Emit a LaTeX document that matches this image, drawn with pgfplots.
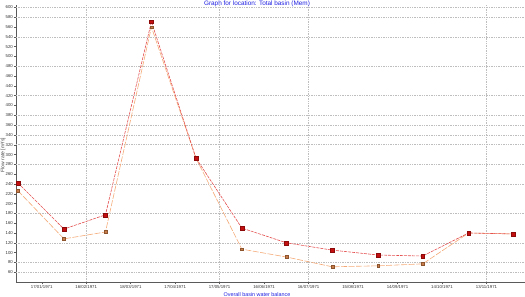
\documentclass[border=0pt]{standalone}
\usepackage{pgfplots}
\pgfplotsset{compat=1.18}
\usepackage{fontspec}
\setmainfont{Liberation Sans}
\definecolor{redline}{RGB}{228,80,80}
\definecolor{redfill}{RGB}{195,15,15}
\definecolor{reddraw}{RGB}{140,10,10}
\definecolor{orline}{RGB}{244,170,120}
\definecolor{orfill}{RGB}{200,125,75}
\definecolor{ordraw}{RGB}{140,85,45}
\definecolor{tblue}{RGB}{30,30,225}
\definecolor{gridc}{RGB}{190,190,190}
\definecolor{axc}{RGB}{90,90,90}
\begin{document}
\begin{tikzpicture}
\begin{axis}[
  at={(0,0)}, anchor=south west,
  scale only axis, width=509pt, height=277pt,
  xmin=-1.35, xmax=342, ymin=40, ymax=605,
  axis x line*=bottom, axis y line*=left,
  axis line style={-, draw=axc, line width=0.5pt},
  tick align=outside, major tick length=2pt,
  tick style={draw=axc, line width=0.4pt},
  xtick={16,46,76,106,136,166,196,226,256,286,316},
  xticklabels={17/01/1971,16/02/1971,18/03/1971,17/04/1971,17/05/1971,16/06/1971,16/07/1971,15/08/1971,14/09/1971,14/10/1971,13/11/1971},
  ytick={60,80,...,600},
  /pgf/number format/assume math mode=true,
  tick label style={font=\fontsize{4.3}{5}\selectfont, text=black!80},
  xticklabel style={inner sep=1pt, yshift=-0.5pt},
  yticklabel style={inner sep=1pt},
  extra y ticks={600,580,540,480,420,380,360,340,320,280,240,180,120,80,60},
  extra y tick labels={},
  extra y tick style={grid=major, major tick length=0pt},
  extra x ticks={46,136,196,316},
  extra x tick labels={},
  extra x tick style={grid=major, major tick length=0pt},
  major grid style={draw=gridc, dash pattern=on 1.4pt off 1pt, line width=0.45pt},
  clip=false,
]
\addplot[draw=orline, line width=0.6pt, dash pattern=on 6pt off 1.5pt,
  mark=square*, mark size=1.4pt, mark options={solid, fill=orfill, draw=ordraw, line width=0.3pt}]
  coordinates {(0,226) (31,128) (59,142) (90,560) (120,293) (151,107) (181,91) (212,71) (243,73) (273,77) (304,140) (334,138)};
\addplot[draw=redline, line width=0.6pt, dash pattern=on 3pt off 1pt,
  mark=square*, mark size=1.9pt, mark options={solid, fill=redfill, draw=reddraw, line width=0.3pt}]
  coordinates {(0,242) (31,148) (59,177) (90,571) (120,293) (151,150) (181,120) (212,105) (243,95) (273,93) (304,140) (334,138)};
\end{axis}
\node[anchor=base, text=tblue, font=\fontsize{6.4}{7}\selectfont] at (241pt,276.6pt) {Graph for location: Total basin (Mem)};
\node[anchor=base, text=tblue, font=\fontsize{5.4}{6}\selectfont] at (241pt,-14.2pt) {Overall basin water balance};
\node[rotate=90, anchor=center, text=black!75, font=\fontsize{5}{6}\selectfont] at (-13pt,127pt) {Flow rate [m³/s]};
\pgfresetboundingbox
\path[use as bounding box] (-16pt,-15pt) rectangle (509pt,282pt);
\end{tikzpicture}
\end{document}
